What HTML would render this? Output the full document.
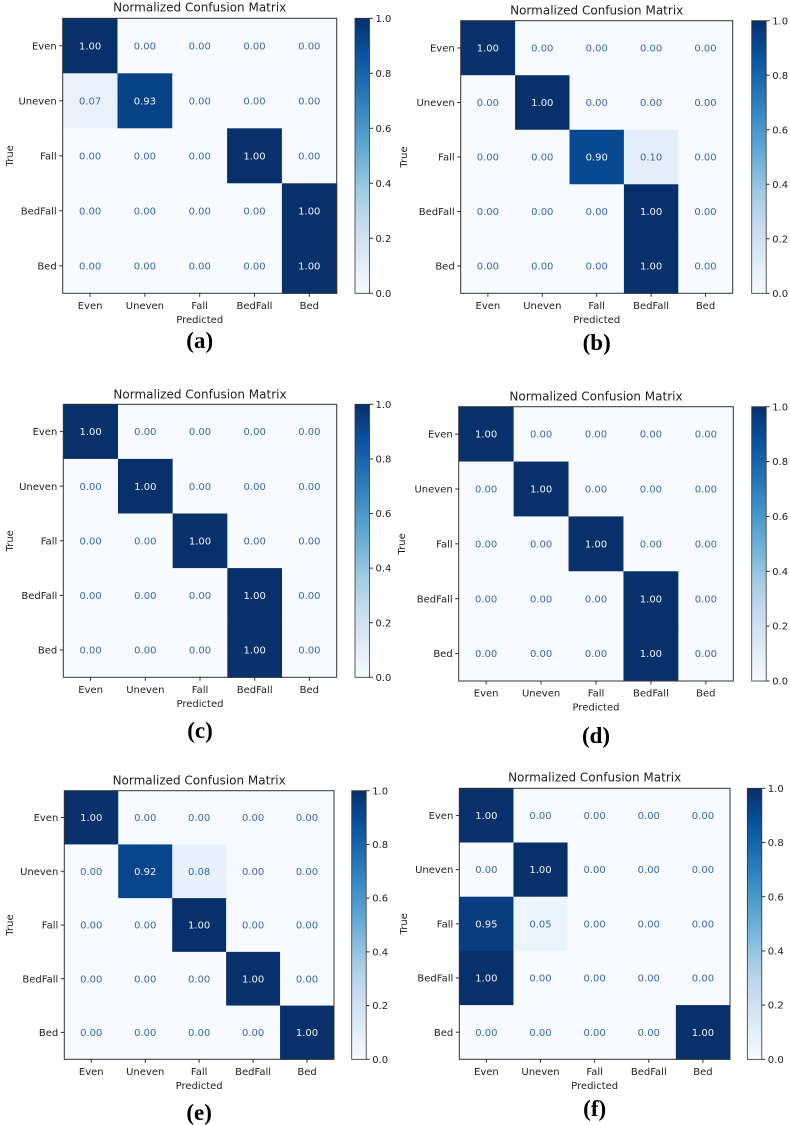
<!DOCTYPE html>
<html><head><meta charset="utf-8">
<style>
html,body{margin:0;padding:0;background:#fff;}
svg{display:block;}
text{font-family:"DejaVu Sans","Liberation Sans",sans-serif;}
.lbl{font-family:"Liberation Serif",serif;font-weight:bold;font-size:23px;fill:#000;}
</style></head>
<body>
<svg id="fig" width="790" height="1125" viewBox="0 0 790 1125" xmlns="http://www.w3.org/2000/svg"></svg>
<script>
const categories = ["Even","Uneven","Fall","BedFall","Bed"];
const colorbarTicks = [0.0,0.2,0.4,0.6,0.8,1.0];
const matrixA = [[1,0,0,0,0],[0.07,0.93,0,0,0],[0,0,0,1,0],[0,0,0,0,1],[0,0,0,0,1]];
const matrixB = [[1,0,0,0,0],[0,1,0,0,0],[0,0,0.90,0.10,0],[0,0,0,1,0],[0,0,0,1,0]];
const matrixC = [[1,0,0,0,0],[0,1,0,0,0],[0,0,1,0,0],[0,0,0,1,0],[0,0,0,1,0]];
const matrixD = [[1,0,0,0,0],[0,1,0,0,0],[0,0,1,0,0],[0,0,0,1,0],[0,0,0,1,0]];
const matrixE = [[1,0,0,0,0],[0,0.92,0.08,0,0],[0,0,1,0,0],[0,0,0,1,0],[0,0,0,0,1]];
const matrixF = [[1,0,0,0,0],[0,1,0,0,0],[0.95,0.05,0,0,0],[1,0,0,0,0],[0,0,0,0,1]];
const panelLabels = ["(a)","(b)","(c)","(d)","(e)","(f)"];

const layout = [
 {x0:62.7,x1:336.7,y0:18.3,y1:293.3,cb:355,title:7,lab:340,ty:10},
 {x0:460.7,x1:732.7,y0:20.7,y1:293.3,cb:751.7,title:10,lab:342,ty:404},
 {x0:63.3,x1:336.7,y0:404.3,y1:677.3,cb:355,title:394,lab:730,ty:10},
 {x0:458.7,x1:733.3,y0:406.7,y1:681,cb:751.7,title:396,lab:735,ty:402},
 {x0:64.3,x1:334,y0:790.7,y1:1059.3,cb:351.7,title:780,lab:1112,ty:10},
 {x0:459.3,x1:730,y0:788.3,y1:1059.3,cb:747.3,title:777,lab:1108,ty:404}
];
const matrices=[matrixA,matrixB,matrixC,matrixD,matrixE,matrixF];

const stops=[[0,[247,251,255]],[0.125,[222,235,247]],[0.25,[198,219,239]],[0.375,[158,202,225]],[0.5,[107,174,214]],[0.625,[66,146,198]],[0.75,[33,113,181]],[0.875,[8,81,156]],[1,[8,48,107]]];
function blues(v){
  v=Math.max(0,Math.min(1,v));
  for(let i=1;i<stops.length;i++){
    if(v<=stops[i][0]){
      const a=stops[i-1],b=stops[i],t=(v-a[0])/(b[0]-a[0]);
      const c=a[1].map((q,k)=>Math.round(q+(b[1][k]-q)*t));
      return `rgb(${c[0]},${c[1]},${c[2]})`;
    }
  }
  return 'rgb(8,48,107)';
}
const NS="http://www.w3.org/2000/svg";
const svg=document.getElementById('fig');
function mk(tag,attrs,parent,txt){
  const e=document.createElementNS(NS,tag);
  for(const k in attrs)e.setAttribute(k,attrs[k]);
  if(txt!==undefined)e.textContent=txt;
  (parent||svg).appendChild(e);return e;
}
const defs=mk('defs',{});
const grad=mk('linearGradient',{id:'cbgrad',x1:'0',y1:'1',x2:'0',y2:'0'},defs);
stops.forEach(s=>mk('stop',{offset:s[0],'stop-color':blues(s[0])},grad));

layout.forEach((L,p)=>{
  const M=matrices[p];
  const g=mk('g',{});
  
  
  const n=categories.length;
  const cw=(L.x1-L.x0)/n, ch=(L.y1-L.y0)/n;
  const xs=i=>L.x0+i*cw, ys=j=>L.y0+j*ch;
  const cm=M.flat(), vmax=Math.max(...cm), vmin=Math.min(...cm);
  const norm=v=>(v-vmin)/(vmax-vmin||1);
  for(let r=0;r<n;r++)for(let c=0;c<n;c++){
    const v=M[r][c];
    const rect=mk('rect',{x:xs(c),y:ys(r),width:cw+0.5,height:ch+0.5,fill:blues(norm(v))},g);
    
    
  }
  for(let r=0;r<n;r++)for(let c=0;c<n;c++){
    const v=M[r][c];
    const t=mk('text',{x:xs(c)+cw/2,y:ys(r)+ch/2+3.6,'text-anchor':'middle','font-size':'10',fill:norm(v)>0.5?'#eef4fb':'#3a68a8'},g,v.toFixed(2));
    
    
  }
  const frame=mk('rect',{x:L.x0,y:L.y0,width:L.x1-L.x0,height:L.y1-L.y0,fill:'none',stroke:'#333','stroke-width':1},g);
  
  
  categories.forEach((cat,i)=>{
    mk('line',{x1:xs(i)+cw/2,x2:xs(i)+cw/2,y1:L.y1,y2:L.y1+3.5,stroke:'#333'},g);
    const tx=mk('text',{x:xs(i)+cw/2,y:L.y1+15.5,'text-anchor':'middle','font-size':'10',fill:'#222'},g,cat);
    
    
    mk('line',{x1:L.x0-3.5,x2:L.x0,y1:ys(i)+ch/2,y2:ys(i)+ch/2,stroke:'#333'},g);
    const ty=mk('text',{x:L.x0-6,y:ys(i)+ch/2+3.6,'text-anchor':'end','font-size':'10',fill:'#222'},g,cat);
    
    
  });
  const xl=mk('text',{x:(L.x0+L.x1)/2,y:L.y1+29.5,'text-anchor':'middle','font-size':'10',fill:'#222'},g,'Predicted');
  
  
  const cy=(L.y0+L.y1)/2;
  const yl=mk('text',{x:L.ty,y:cy,'text-anchor':'middle','font-size':'10',fill:'#222',transform:`rotate(-90 ${L.ty} ${cy})`,'dominant-baseline':'middle'},g,'True');
  
  
  const tt=mk('text',{x:(L.x0+L.x1)/2,y:L.title+4.5,'text-anchor':'middle','font-size':'12',fill:'#222'},g,'Normalized Confusion Matrix');
  
  
  const cbw=14.5;
  const cb=mk('rect',{x:L.cb,y:L.y0,width:cbw,height:L.y1-L.y0,fill:'url(#cbgrad)',stroke:'#333','stroke-width':0.8},g);
  
  
  colorbarTicks.forEach(v=>{
    const y=L.y1-(v-vmin)/(vmax-vmin||1)*(L.y1-L.y0);
    mk('line',{x1:L.cb+cbw,x2:L.cb+cbw+3.5,y1:y,y2:y,stroke:'#333'},g);
    const ct=mk('text',{x:L.cb+cbw+6,y:y+3.6,'font-size':'10',fill:'#222'},g,v.toFixed(1));
    
    
  });
  const pl=mk('text',{x:(L.x0+L.x1)/2,y:L.lab+8,'text-anchor':'middle',class:'lbl'},g,panelLabels[p]);
  
  
});
</script>
</body></html>
